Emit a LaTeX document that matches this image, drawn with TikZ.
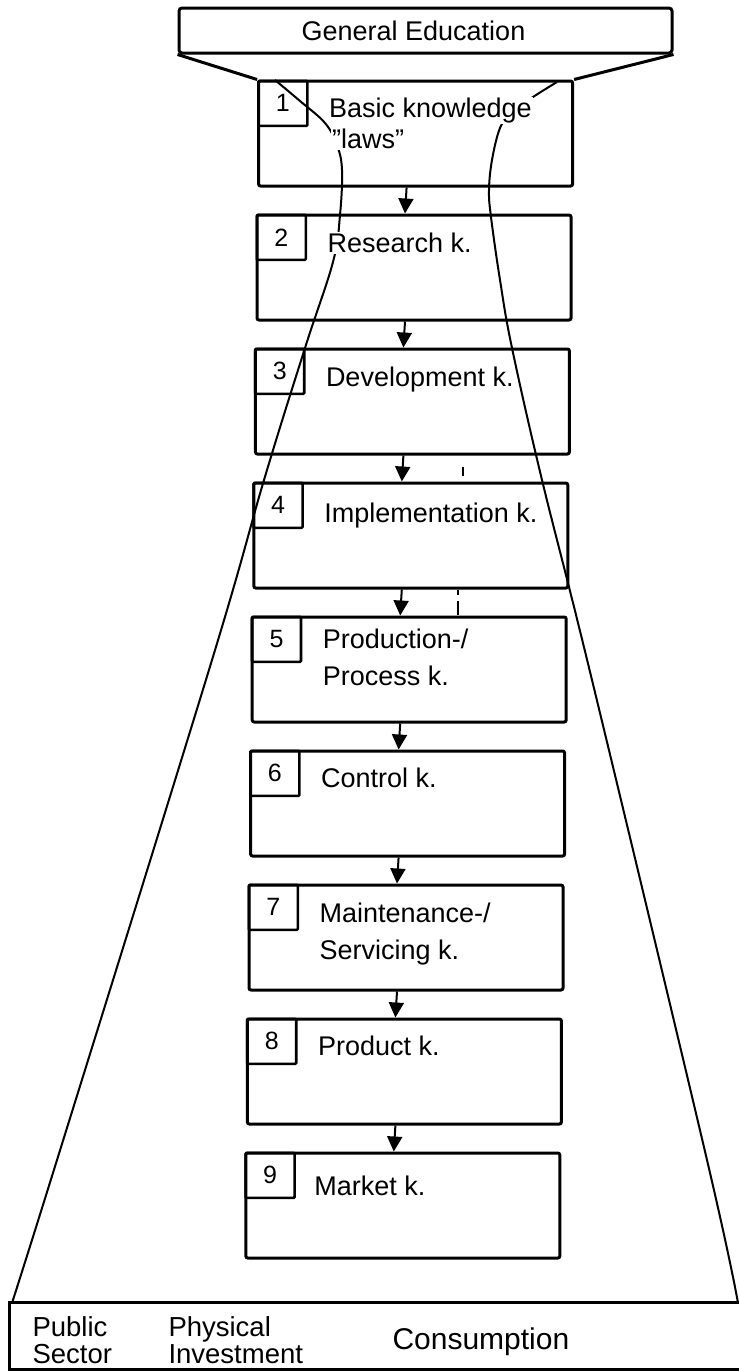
\documentclass[tikz,border=0pt]{standalone}
\usepackage{fontspec}
\setmainfont{Liberation Sans}
\usetikzlibrary{arrows.meta}

\begin{document}
\begin{tikzpicture}[x=1pt,y=-1pt,>={Triangle[length=15pt,width=15pt]},node distance=134pt,
  line width=3pt,
  box/.style={rectangle,draw,rounded corners=2pt,minimum width=314pt,minimum height=105pt},
  num box/.style={rectangle,draw,line width=2.6pt,rounded corners=1pt,anchor=north west,minimum width=49pt,minimum height=45pt,inner sep=0pt,font=\fontsize{25}{25}\selectfont},
  lbl/.style={anchor=north west,align=left,inner sep=1pt,fill=white,font=\fontsize{27}{37}\selectfont},
  ge box/.style={rectangle,draw,rounded corners=3pt,minimum width=493pt,minimum height=45pt},
  sector/.style={anchor=north west,align=left,inner sep=0pt,font=\fontsize{27.5}{27}\selectfont},
  funnel/.style={line width=2pt}]
  \useasboundingbox (0,0) rectangle (739,1371);

  \draw[funnel] plot[smooth,tension=0.6] coordinates {(275,80) (300,101) (325,123) (337,145) (342,170) (340,215) (333,262) (305,348) (264,480) (212,660) (57,1160) (12,1303)};
  \draw[funnel] plot[smooth,tension=0.6] coordinates {(557,82) (533,97) (512,112) (500,128) (492,160) (489,190) (491,217) (500,280) (512,348) (542,480) (592,680) (707,1160) (738,1303)};

  \node[ge box] (ge) at (425.5,30.5) {};
  \node[font=\fontsize{27}{27}\selectfont] (get) at ([xshift=-12pt]ge.center) {General Education};

  \node[box] (b1) at (415.6,133.5) {};
  \node[box] (b2) [below of=b1,xshift=-1.6pt] {};
  \node[box] (b3) [below of=b2,xshift=-1.6pt] {};
  \node[box] (b4) [below of=b3,xshift=-1.6pt] {};
  \node[box] (b5) [below of=b4,xshift=-1.6pt] {};
  \node[box] (b6) [below of=b5,xshift=-1.6pt] {};
  \node[box] (b7) [below of=b6,xshift=-1.6pt] {};
  \node[box] (b8) [below of=b7,xshift=-1.6pt] {};
  \node[box] (b9) [below of=b8,xshift=-1.6pt] {};

  \node[num box] (n1) at (b1.north west) {1};
  \node[num box] (n2) at (b2.north west) {2};
  \node[num box] (n3) at (b3.north west) {3};
  \node[num box] (n4) at (b4.north west) {4};
  \node[num box] (n5) at (b5.north west) {5};
  \node[num box] (n6) at (b6.north west) {6};
  \node[num box] (n7) at (b7.north west) {7};
  \node[num box] (n8) at (b8.north west) {8};
  \node[num box] (n9) at (b9.north west) {9};

  \node[lbl] (l1) at ([xshift=18pt,yshift=-16pt]n1.north east) {Basic knowledge};
  \node[lbl] (l1b) at ([xshift=3pt,yshift=-31pt]l1.north west) {"laws"};
  \node[lbl] (l2) at ([xshift=18pt,yshift=-17pt]n2.north east) {Research k.};
  \node[lbl] (l3) at ([xshift=18pt,yshift=-17pt]n3.north east) {Development k.};
  \node[lbl] (l4) at ([xshift=18pt,yshift=-19pt]n4.north east) {Implementation k.};
  \node[lbl] (l5) at ([xshift=18pt,yshift=-11pt]n5.north east) {Production-/\\Process k.};
  \node[lbl] (l6) at ([xshift=18pt,yshift=-16pt]n6.north east) {Control k.};
  \node[lbl] (l7) at ([xshift=18pt,yshift=-17pt]n7.north east) {Maintenance-/\\Servicing k.};
  \node[lbl] (l8) at ([xshift=18pt,yshift=-16pt]n8.north east) {Product k.};
  \node[lbl] (l9) at ([xshift=16pt,yshift=-22pt]n9.north east) {Market k.};

  \draw (ge.south west) -- (b1.north west) (ge.south east) -- (b1.north east);

  \path[->,line width=2pt] ([xshift=-9pt]b1.south) edge ([xshift=-9pt]b2.north)
    ([xshift=-9pt]b2.south) edge ([xshift=-9pt]b3.north)
    ([xshift=-9pt]b3.south) edge ([xshift=-9pt]b4.north)
    ([xshift=-9pt]b4.south) edge ([xshift=-9pt]b5.north)
    ([xshift=-9pt]b5.south) edge ([xshift=-9pt]b6.north)
    ([xshift=-9pt]b6.south) edge ([xshift=-9pt]b7.north)
    ([xshift=-9pt]b7.south) edge ([xshift=-9pt]b8.north)
    ([xshift=-9pt]b8.south) edge ([xshift=-9pt]b9.north);

  \draw[line width=1.8pt] (463,467) -- (463,476);
  \draw[line width=1.8pt,dash pattern=on 5pt off 6pt on 14pt] (458,590) -- (458,615);

  \coordinate (base nw) at (9,1302);
  \draw (739,1302) -| (9,1369) -- (739,1369);
  \node[sector] (pub) at (31,1315) {Public\\Sector};
  \node[sector] (phy) at (167,1315) {Physical\\Investment};
  \node[sector,font=\fontsize{30}{30}\selectfont] (con) at (391,1326) {Consumption};
\end{tikzpicture}
\end{document}
